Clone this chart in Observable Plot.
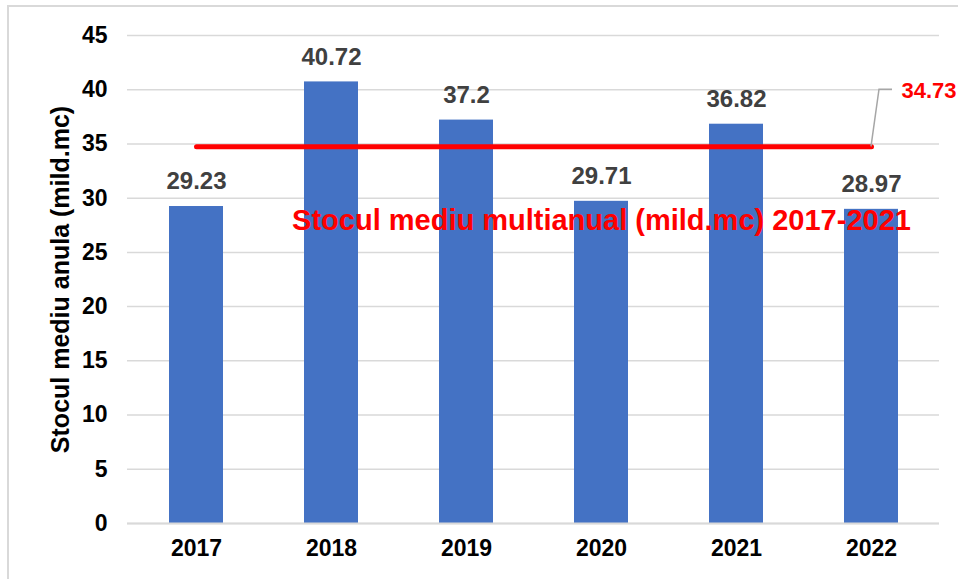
<!DOCTYPE html>
<html>
<head>
<meta charset="utf-8">
<script src="https://cdn.jsdelivr.net/npm/d3@7"></script>
<script src="https://cdn.jsdelivr.net/npm/@observablehq/plot@0.6"></script>
<style>
  html, body { margin: 0; padding: 0; background: #fff; }
  #wrap { position: relative; width: 958px; height: 579px; overflow: hidden; font-family: "Liberation Sans", Arial, sans-serif; }
  #border { position: absolute; left: 7px; top: 5px; width: 1200px; height: 1200px; border-left: 2px solid #d9d9d9; border-top: 2px solid #d9d9d9; }
  #chart { position: absolute; left: 0; top: 0; }
</style>
</head>
<body>
<div id="wrap"><div id="border"></div><div id="chart"></div></div>
<script>
const years = ["2017", "2018", "2019", "2020", "2021", "2022"];
const values = [29.23, 40.72, 37.2, 29.71, 36.82, 28.97];
const averageValue = 34.73;
const averageSpan = ["2017", "2022"];
const averageLabel = "34.73";
const averageTitle = "Stocul mediu multianual (mild.mc) 2017-2021";
const yTicks = [0, 5, 10, 15, 20, 25, 30, 35, 40, 45];
const yLabel = "Stocul mediu anula (mild.mc)";

const data = years.map((year, i) => ({year, value: values[i]}));
const avgLine = averageSpan.map(year => ({year, value: averageValue}));

const leader = (index, {x, y}) => {
  const g = d3.create("svg:g");
  const cx = x("2022") + (x.bandwidth ? x.bandwidth() / 2 : 0);
  const cy = y(averageValue);
  const ly = y(40);
  g.append("rect").attr("x", cx + 21).attr("y", ly - 12).attr("width", 100).attr("height", 24).attr("fill", "#fff");
  g.append("path").attr("d", `M${cx},${cy}L${cx + 8},${ly}H${cx + 21}`)
    .attr("fill", "none").attr("stroke", "#a6a6a6").attr("stroke-width", 1.5);
  return g.node();
};

const chart = Plot.plot({
  width: 958,
  height: 579,
  marginLeft: 127,
  marginRight: 19,
  marginTop: 35,
  marginBottom: 56,
  style: {fontFamily: "'Liberation Sans', Arial, sans-serif", background: "transparent", overflow: "visible"},
  x: {domain: years, paddingInner: 0.6, paddingOuter: 0.3, label: null},
  y: {domain: [0, 45], label: null},
  marks: [
    Plot.gridY(yTicks, {stroke: "#d9d9d9", strokeOpacity: 1, strokeWidth: 1.5}),
    Plot.barY(data, {x: "year", y: "value", fill: "#4472C4"}),
    Plot.ruleY([0], {stroke: "#d9d9d9", strokeWidth: 2}),
    Plot.axisY(yTicks, {tickSize: 0, tickPadding: 20, fontSize: 23, fontWeight: "bold", fill: "#000", label: null}),
    Plot.axisX({tickSize: 0, tickPadding: 16, fontSize: 23, fontWeight: "bold", fill: "#000", label: null}),
    Plot.text(data, {x: "year", y: "value", text: d => String(d.value), dy: -25, fontSize: 24, fontWeight: "bold", fill: "#404040"}),
    Plot.line(avgLine, {x: "year", y: "value", stroke: "#ff0000", strokeWidth: 5, strokeLinecap: "round"}),
    leader,
    Plot.text([averageLabel], {x: () => "2022", y: () => 39.9, text: d => d, dx: 30, textAnchor: "start", fontSize: 22, fontWeight: "bold", fill: "#ff0000"}),
    Plot.text([averageTitle], {x: () => "2020", y: () => 27.9, text: d => d, fontSize: 29, fontWeight: "bold", fill: "#ff0000"}),
    Plot.text([yLabel], {frameAnchor: "left", textAnchor: "middle", text: d => d, rotate: -90, dx: -67, fontSize: 25, fontWeight: "bold", fill: "#000"})
  ]
});
document.getElementById("chart").appendChild(chart);
</script>
</body>
</html>
